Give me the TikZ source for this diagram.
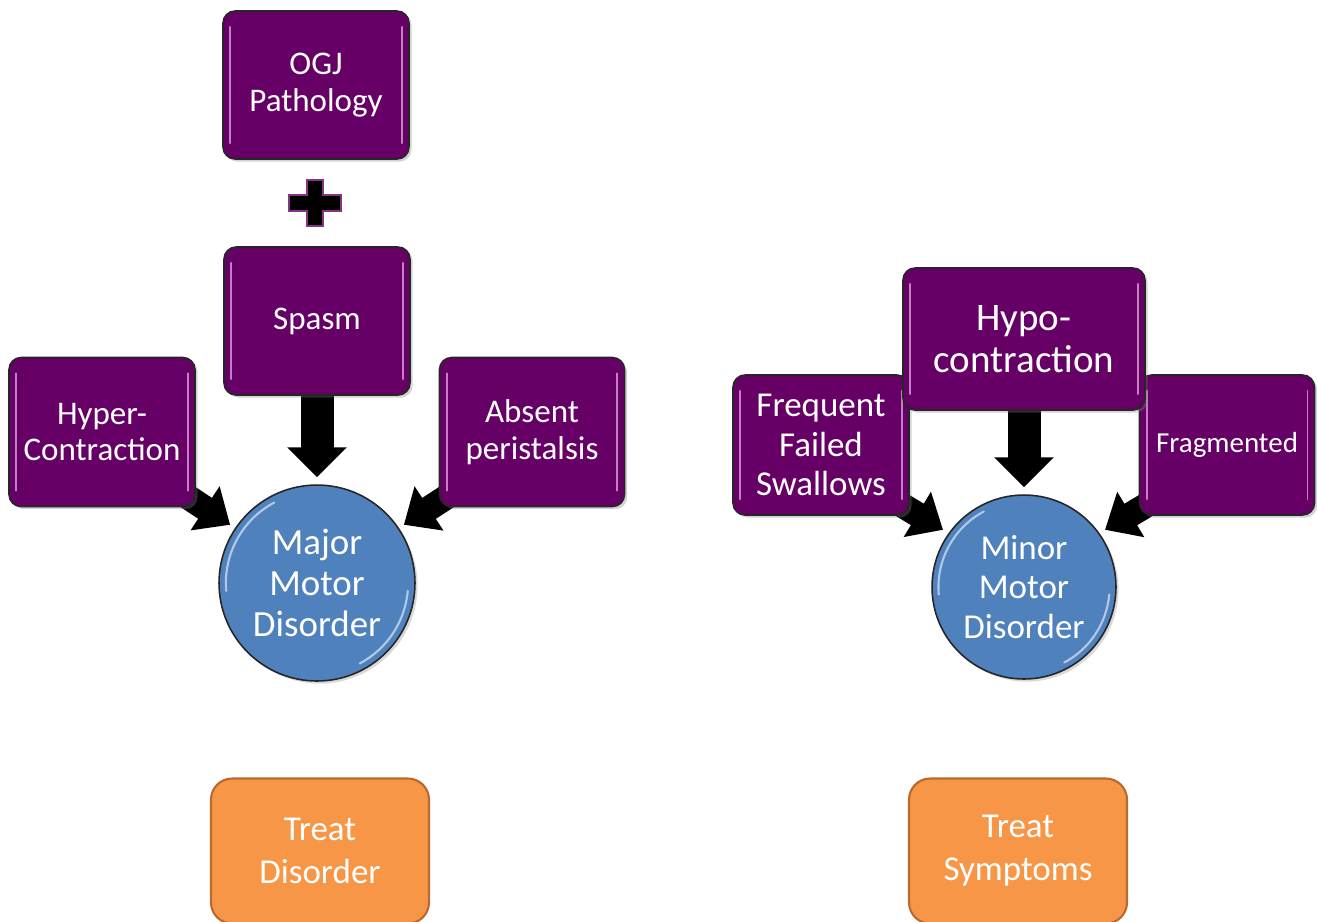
\documentclass[tikz,border=0pt]{standalone}
\usepackage{fontspec}
\setmainfont{Carlito}
\usetikzlibrary{arrows.meta,shadows,backgrounds}

\definecolor{boxpurple}{HTML}{660066}
\definecolor{boxglow}{HTML}{C57DC5}
\definecolor{discblue}{HTML}{4F81BD}
\definecolor{discglow}{HTML}{C9DBF2}
\definecolor{treatfill}{HTML}{F79646}
\definecolor{treatdraw}{HTML}{B66A2E}

\tikzset{
  factorbox/.style 2 args={rectangle, rounded corners=0.24cm, draw=black!85, line width=0.9pt,
    fill=boxpurple, text=white, align=center, inner sep=2pt,
    minimum width=#1, minimum height=#2,
    drop shadow={opacity=0.35, shadow xshift=1.5pt, shadow yshift=-1.5pt},
    path picture={
      \draw[boxglow, line width=1.1pt, line cap=round]
        ([xshift=4pt,yshift=-9pt]path picture bounding box.north west) --
        ([xshift=4pt,yshift=9pt]path picture bounding box.south west);
      \draw[boxglow, line width=1.1pt, line cap=round]
        ([xshift=-4pt,yshift=-9pt]path picture bounding box.north east) --
        ([xshift=-4pt,yshift=9pt]path picture bounding box.south east);
    }},
  disorderdisc/.style={circle, draw=black!85, line width=0.9pt, fill=discblue, text=white,
    align=center, inner sep=0pt, minimum size=#1,
    drop shadow={opacity=0.3, shadow xshift=1.5pt, shadow yshift=-1.5pt},
    path picture={
      \draw[discglow, opacity=0.8, line width=1.2pt, line cap=round]
        ([shift={(118:0.465*#1)}]path picture bounding box.center)
        arc[start angle=118, end angle=185, radius=0.465*#1];
      \draw[discglow, opacity=0.8, line width=1.2pt, line cap=round]
        ([shift={(-62:0.465*#1)}]path picture bounding box.center)
        arc[start angle=-62, end angle=-5, radius=0.465*#1];
    }},
  treatbox/.style={rectangle, rounded corners=0.42cm, draw=treatdraw, line width=1.2pt,
    fill=treatfill, text=white, align=center, minimum width=4.36cm, minimum height=2.9cm},
  downarrow/.style={draw=black, line width=0.66cm, -{Triangle[width=1.16cm,length=0.6cm]},
    shorten >=0.14cm},
  slantarrow/.style={draw=black, line width=0.5cm, -{Triangle[width=1.02cm,length=0.6cm]}},
  plussign/.style={fill=black, draw=boxpurple!80, line width=0.8pt}
}

\newcommand{\fsz}[2]{\fontsize{#1}{#2}\selectfont}

\begin{document}
\begin{tikzpicture}[x=0.02cm, y=-0.02cm]

\useasboundingbox (0,0) rectangle (1317,921);

% major motor disorder
\node[factorbox={3.72cm}{2.96cm}, font=\fsz{18.8pt}{21pt}] (ogj) at (316,85) {OGJ\\Pathology};
\coordinate (plus) at (315,203);
\node[factorbox={3.72cm}{2.96cm}, font=\fsz{18.8pt}{21pt}] (spasm) at (317,321) {Spasm};
\node[factorbox={3.72cm}{2.98cm}, font=\fsz{18.8pt}{21pt}] (hyper) at (102,432) {Hyper-\\Contraction};
\node[factorbox={3.70cm}{2.98cm}, font=\fsz{18.8pt}{21pt}] (absent) at (532,432) {Absent\\peristalsis};
\node[disorderdisc=3.92cm, font=\fsz{21pt}{23.3pt}] (major) at (317,583) {Major\\Motor\\Disorder};
\node[treatbox, font=\fsz{19.9pt}{24.5pt}] (treatA) at (320,851) {Treat\\Disorder};

% minor motor disorder
\node[factorbox={3.52cm}{2.80cm}, font=\fsz{19.9pt}{22.6pt}] (freq) at (821,445) {Frequent\\Failed\\Swallows};
\node[factorbox={3.50cm}{2.80cm}, font=\fsz{16.5pt}{20pt}] (frag) at (1227,445) {Fragmented};
\node[factorbox={4.84cm}{2.84cm}, font=\fsz{22.2pt}{23.9pt}] (hypo) at (1024,339) {Hypo-\\contraction};
\node[disorderdisc=3.68cm, font=\fsz{19.9pt}{22.5pt}] (minor) at (1024,587) {Minor\\Motor\\Disorder};
\node[treatbox, font=\fsz{19.9pt}{24.5pt}] (treatB) at (1018,851) {Treat\\Symptoms};

\draw[plussign] (plus) ++(-26,-8) -- ++(18,0) -- ++(0,-15) -- ++(16,0) -- ++(0,15) -- ++(18,0)
  -- ++(0,16) -- ++(-18,0) -- ++(0,15) -- ++(-16,0) -- ++(0,-15) -- ++(-18,0) -- cycle;

\begin{scope}[on background layer]
  \draw[downarrow] (spasm.south) -- (major.north);
  \draw[slantarrow] ([xshift=-0.3cm,yshift=0.3cm]hyper.south east) -- ([xshift=-0.1cm,yshift=0.06cm]major.146);
  \draw[slantarrow] ([xshift=0.3cm,yshift=0.3cm]absent.south west) -- ([xshift=0.1cm,yshift=0.06cm]major.34);
  \draw[downarrow] (hypo.south) -- (minor.north);
  \draw[slantarrow] ([xshift=-0.3cm,yshift=0.3cm]freq.south east) -- ([xshift=-0.1cm,yshift=0.08cm]minor.145);
  \draw[slantarrow] ([xshift=0.3cm,yshift=0.3cm]frag.south west) -- ([xshift=0.1cm,yshift=0.08cm]minor.35);
\end{scope}

\end{tikzpicture}
\end{document}
